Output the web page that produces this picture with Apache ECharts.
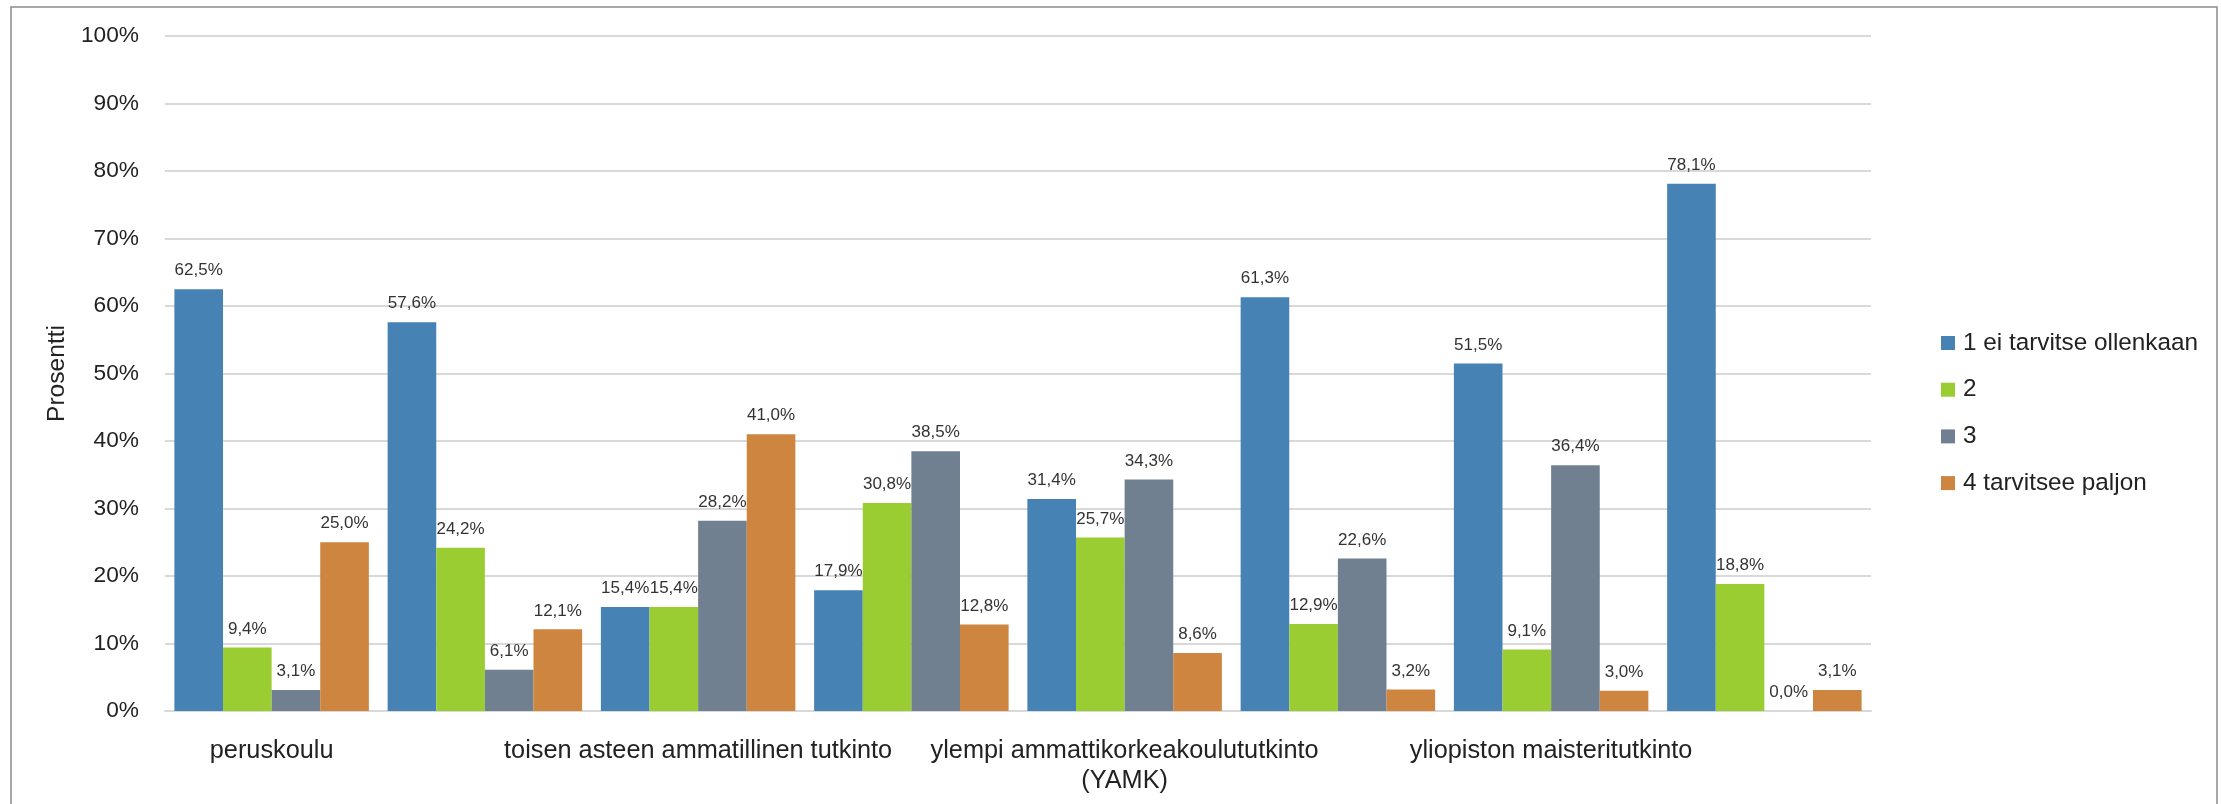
<!DOCTYPE html>
<html>
<head>
<meta charset="utf-8">
<script src="https://cdn.jsdelivr.net/npm/echarts@6/dist/echarts.min.js"></script>
<style>
html,body{margin:0;padding:0;background:#fff;}
#chart{width:2221px;height:804px;}
</style>
</head>
<body>
<div id="chart"></div>
<script>
const categories = [
  "peruskoulu",
  "lukio",
  "toisen asteen ammatillinen tutkinto",
  "ammattikorkeakoulututkinto (AMK)",
  "ylempi ammattikorkeakoulututkinto (YAMK)",
  "yliopiston kandidaatintutkinto",
  "yliopiston maisteritutkinto",
  "tohtorin tutkinto"
];
const seriesNames = ["1 ei tarvitse ollenkaan", "2", "3", "4 tarvitsee paljon"];
const s1 = [62.5, 57.6, 15.4, 17.9, 31.4, 61.3, 51.5, 78.1];
const s2 = [9.4, 24.2, 15.4, 30.8, 25.7, 12.9, 9.1, 18.8];
const s3 = [3.1, 6.1, 28.2, 38.5, 34.3, 22.6, 36.4, 0.0];
const s4 = [25.0, 12.1, 41.0, 12.8, 8.6, 3.2, 3.0, 3.1];
const yTicks = [0, 10, 20, 30, 40, 50, 60, 70, 80, 90, 100];
const colors = ["#4682B4", "#9ACD32", "#708090", "#CD853F"];

const FONT = "'Liberation Sans', Arial, sans-serif";
const chart = echarts.init(document.getElementById('chart'), null, {renderer: 'canvas'});

function mkSeries(name, data, color) {
  return {
    name: name,
    type: 'bar',
    data: data,
    barGap: '0%',
    barCategoryGap: '8.8%',
    itemStyle: {color: color},
    label: {
      show: true,
      position: 'top',
      distance: 10,
      fontFamily: FONT,
      fontSize: 17,
      color: '#333',
      formatter: p => p.value.toFixed(1).replace('.', ',') + '%'
    },
    emphasis: {disabled: true},
    animation: false
  };
}

chart.setOption({
  animation: false,
  backgroundColor: '#fff',
  textStyle: {fontFamily: FONT},
  graphic: [{
    type: 'rect',
    shape: {x: 11, y: 7, width: 2206, height: 830},
    style: {fill: 'none', stroke: '#8c8c8c', lineWidth: 1.5},
    silent: true,
    z: -10
  }],
  grid: {left: 165, right: 350, top: 36, bottom: 93},
  legend: {
    orient: 'vertical',
    left: 1936,
    top: 324,
    itemWidth: 14,
    itemHeight: 14,
    itemGap: 18.7,
    icon: 'rect',
    textStyle: {fontFamily: FONT, fontSize: 24.3, color: '#222', lineHeight: 28, padding: [0, 0, 0, 3]},
    data: seriesNames
  },
  xAxis: {
    type: 'category',
    data: categories,
    axisTick: {show: false},
    axisLine: {show: true, lineStyle: {color: '#d9d9d9', width: 2}},
    axisLabel: {
      interval: 1,
      margin: 25,
      fontFamily: FONT,
      fontSize: 25.3,
      lineHeight: 30,
      color: '#222',
      formatter: v => v.replace(' (', '\n(')
    }
  },
  yAxis: {
    type: 'value',
    min: yTicks[0],
    max: yTicks[yTicks.length - 1],
    interval: 10,
    name: 'Prosentti',
    nameLocation: 'middle',
    nameGap: 92,
    nameTextStyle: {fontFamily: FONT, fontSize: 24.6, color: '#222'},
    axisLine: {show: false},
    axisTick: {show: false},
    splitLine: {lineStyle: {color: '#d9d9d9', width: 2}},
    axisLabel: {
      margin: 26,
      fontFamily: FONT,
      fontSize: 22.7,
      color: '#222',
      formatter: '{value}%'
    }
  },
  series: [
    mkSeries(seriesNames[0], s1, colors[0]),
    mkSeries(seriesNames[1], s2, colors[1]),
    mkSeries(seriesNames[2], s3, colors[2]),
    mkSeries(seriesNames[3], s4, colors[3])
  ]
});
</script>
</body>
</html>
